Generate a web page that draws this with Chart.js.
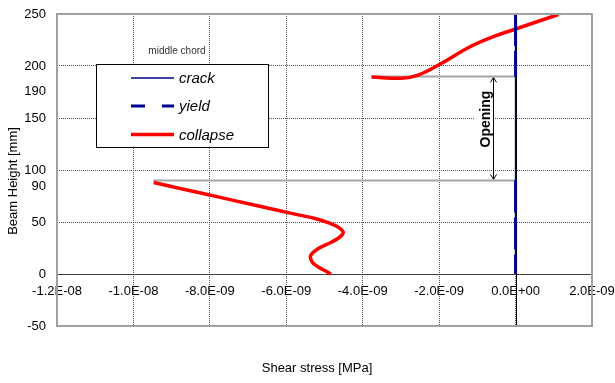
<!DOCTYPE html>
<html>
<head>
<meta charset="utf-8">
<script src="https://cdn.jsdelivr.net/npm/chart.js@4.4.0/dist/chart.umd.min.js"></script>
<style>
  html, body { margin: 0; padding: 0; background: #fff; }
  #wrap { width: 615px; height: 383px; }
</style>
</head>
<body>
<div id="wrap"><canvas id="c" width="615" height="383"></canvas></div>
<script>
// ---- data ----
const seriesNames = ['crack', 'yield', 'collapse'];
const xTickValues = [-1.2e-8, -1.0e-8, -8.0e-9, -6.0e-9, -4.0e-9, -2.0e-9, 0, 2.0e-9];
const yTickValues = [-50, 0, 50, 100, 150, 200, 250];
const yMarkLabels = [190, 90];

// crack: zero shear stress over the full height
const crackX = [0, 0];
const crackY = [0, 250];

// yield: zero shear stress above and below the opening
const yieldX = [0, 0, null, 0, 0];
const yieldY = [250, 190, null, 90, 0];

// collapse: lower chord zone, then upper chord zone
const collapseX = [-9.47e-9, -8.6e-9, -7.7e-9, -6.9e-9, -6.2e-9, -5.65e-9, -5.2e-9, -4.85e-9, -4.62e-9, -4.51e-9,
                   -4.60e-9, -4.82e-9, -5.17e-9, -5.36e-9, -5.32e-9, -5.15e-9, -4.95e-9, -4.83e-9,
                   null,
                   -3.77e-9, -2.98e-9, -2.55e-9, -1.98e-9, -1.24e-9, -0.63e-9, 0, 1.12e-9];
const collapseY = [88, 80.8, 73.4, 66.8, 61, 56.6, 52.9, 48.6, 44.5, 40,
                   35.5, 30.6, 24.2, 17.8, 11.3, 6.5, 2.4, 0,
                   null,
                   189.5, 188.2, 191.3, 201.6, 217.6, 227.5, 235.6, 249.5];

// opening boundaries
const openingTop = 190;
const openingBottom = 90;
const openingTopX = [-3.77e-9, 0];
const openingBottomX = [-9.48e-9, 0];
const openingArrowX = -0.6e-9;
const openingLabel = 'Opening';

const chartTitle = 'middle chord';
const xTitle = 'Shear stress [MPa]';
const yTitle = 'Beam Height [mm]';

// ---- helpers ----
function pts(xs, ys) {
  return xs.map((x, i) => (x === null ? { x: null, y: null } : { x: x, y: ys[i] }));
}
function sciLabel(v) {
  if (Math.abs(v) < 1e-15) return '0.0E+00';
  const parts = v.toExponential(1).split('e');
  const n = parseInt(parts[1], 10);
  return parts[0] + 'E' + (n < 0 ? '-' : '+') + String(Math.abs(n)).padStart(2, '0');
}

const FONT = "'Liberation Sans', Arial, sans-serif";
const NAVY = '#00008f';
const RED = '#ff0000';
const REF_GRAY = '#a6a6a6';

const datasets = [
  { label: seriesNames[1], data: pts(yieldX, yieldY), borderColor: NAVY, borderWidth: 3, borderDash: [32, 5], pointRadius: 0, tension: 0, spanGaps: false },
  { label: seriesNames[2], data: pts(collapseX, collapseY), borderColor: RED, borderWidth: 3.5, pointRadius: 0, tension: 0.4, spanGaps: false },
  { label: seriesNames[0], data: pts(crackX, crackY), borderColor: NAVY, borderWidth: 1.5, pointRadius: 0, tension: 0 },
  { label: 'top', data: pts(openingTopX, [openingTop, openingTop]), borderColor: REF_GRAY, borderWidth: 2, pointRadius: 0, tension: 0 },
  { label: 'bottom', data: pts(openingBottomX, [openingBottom, openingBottom]), borderColor: REF_GRAY, borderWidth: 2, pointRadius: 0, tension: 0 }
];
const CRACK_INDEX = 2;

// ---- drawing extras ----
const extras = {
  id: 'extras',
  beforeDatasetsDraw(chart) {
    const { ctx, chartArea: a, scales: { x, y } } = chart;
    ctx.save();
    // horizontal axis at zero height
    const y0 = Math.round(y.getPixelForValue(0)) + 0.5;
    ctx.strokeStyle = '#404040';
    ctx.lineWidth = 1;
    ctx.beginPath(); ctx.moveTo(a.left, y0); ctx.lineTo(a.right, y0); ctx.stroke();

    // "Opening" label on white background
    const tx = x.getPixelForValue(openingArrowX) - 8;
    const ty = y.getPixelForValue((openingTop + openingBottom) / 2 + 9);
    ctx.font = 'bold 14px ' + FONT;
    const w = ctx.measureText(openingLabel).width;
    ctx.fillStyle = '#fff';
    ctx.fillRect(tx - 10, ty - w / 2 - 4, 20, w + 8);
    ctx.translate(tx, ty);
    ctx.rotate(-Math.PI / 2);
    ctx.fillStyle = '#000';
    ctx.textAlign = 'center';
    ctx.textBaseline = 'middle';
    ctx.fillText(openingLabel, 0, 1);
    ctx.restore();

    // double arrow between the opening boundaries
    ctx.save();
    const ax = Math.round(x.getPixelForValue(openingArrowX)) + 0.5;
    const at = y.getPixelForValue(openingTop);
    const ab = y.getPixelForValue(openingBottom);
    ctx.strokeStyle = '#000';
    ctx.lineWidth = 1;
    ctx.beginPath(); ctx.moveTo(ax, at + 1); ctx.lineTo(ax, ab - 1); ctx.stroke();
    ctx.beginPath();
    ctx.moveTo(ax - 3, at + 6); ctx.lineTo(ax, at + 1); ctx.lineTo(ax + 3, at + 6);
    ctx.moveTo(ax - 3, ab - 6); ctx.lineTo(ax, ab - 1); ctx.lineTo(ax + 3, ab - 6);
    ctx.stroke();
    ctx.restore();
  },
  afterDatasetDraw(chart, args) {
    if (args.index !== CRACK_INDEX) return;
    const { ctx, chartArea: a, scales: { x } } = chart;
    const x0 = Math.round(x.getPixelForValue(0)) + 0.5;
    ctx.save();
    ctx.strokeStyle = '#000';
    ctx.lineWidth = 1;
    ctx.beginPath(); ctx.moveTo(x0, a.top); ctx.lineTo(x0, a.bottom); ctx.stroke();
    ctx.restore();
  },
  afterDatasetsDraw(chart) {
    const { ctx, chartArea: a, scales: { y } } = chart;
    ctx.save();
    // plot frame
    ctx.strokeStyle = '#a0a0a0';
    ctx.lineWidth = 2;
    ctx.strokeRect(a.left, a.top, a.right - a.left, a.bottom - a.top);

    // extra height labels
    ctx.fillStyle = '#000';
    ctx.font = '13px ' + FONT;
    ctx.textAlign = 'right';
    ctx.textBaseline = 'middle';
    const offs = [15, 6];
    yMarkLabels.forEach((v, i) => {
      ctx.fillText(String(v), a.left - 11, y.getPixelForValue(v) + offs[i]);
    });

    // axis titles
    ctx.textAlign = 'center';
    ctx.fillText(xTitle, 317, 368);
    ctx.save();
    ctx.translate(13, 181);
    ctx.rotate(-Math.PI / 2);
    ctx.fillText(yTitle, 0, 0);
    ctx.restore();

    // chart title
    ctx.font = '10px ' + FONT;
    ctx.fillStyle = '#333';
    ctx.fillText(chartTitle, 177, 51);

    // legend box
    const bx = 96.5, by = 64.5, bw = 172, bh = 83;
    ctx.fillStyle = '#fff';
    ctx.fillRect(bx, by, bw, bh);
    ctx.strokeStyle = '#000';
    ctx.lineWidth = 1;
    ctx.strokeRect(bx, by, bw, bh);
    const rows = [
      { ds: datasets[2], yy: 78 },
      { ds: datasets[0], yy: 106 },
      { ds: datasets[1], yy: 134.5 }
    ];
    rows.forEach(r => {
      ctx.save();
      ctx.strokeStyle = r.ds.borderColor;
      ctx.lineWidth = r.ds.borderWidth;
      if (r.ds.borderDash) ctx.setLineDash([14, 17]);
      ctx.beginPath(); ctx.moveTo(131, r.yy); ctx.lineTo(174, r.yy); ctx.stroke();
      ctx.restore();
      ctx.fillStyle = '#000';
      ctx.font = 'italic 15px ' + FONT;
      ctx.textAlign = 'left';
      ctx.textBaseline = 'middle';
      ctx.fillText(r.ds.label, 179, r.yy + 1);
    });
    ctx.restore();
  }
};

new Chart(document.getElementById('c'), {
  type: 'line',
  data: { datasets: datasets },
  options: {
    responsive: false,
    animation: false,
    devicePixelRatio: 1,
    layout: { padding: { left: 0, top: 14, right: 23, bottom: 57 } },
    plugins: { legend: { display: false }, tooltip: { enabled: false } },
    scales: {
      x: {
        type: 'linear',
        position: { y: 0 },
        min: -1.2e-8,
        max: 2.0e-9,
        afterBuildTicks: s => { s.ticks = xTickValues.map(v => ({ value: v })); },
        afterFit: s => { s.paddingLeft = 0; s.paddingRight = 0; },
        grid: { color: '#555', lineWidth: 1, drawTicks: false },
        border: { display: false, dash: [1, 1] },
        ticks: { color: '#000', font: { family: FONT, size: 13 }, padding: 10, maxRotation: 0, autoSkip: false, callback: v => sciLabel(v) }
      },
      y: {
        type: 'linear',
        position: 'left',
        min: -50,
        max: 250,
        afterBuildTicks: s => { s.ticks = yTickValues.map(v => ({ value: v })); },
        afterFit: s => { s.width = 57; s.paddingTop = 0; s.paddingBottom = 0; },
        grid: { color: '#555', lineWidth: 1, drawTicks: false },
        border: { display: false, dash: [1, 1] },
        ticks: { color: '#000', font: { family: FONT, size: 13 }, padding: 11, autoSkip: false }
      }
    }
  },
  plugins: [extras]
});
</script>
</body>
</html>
